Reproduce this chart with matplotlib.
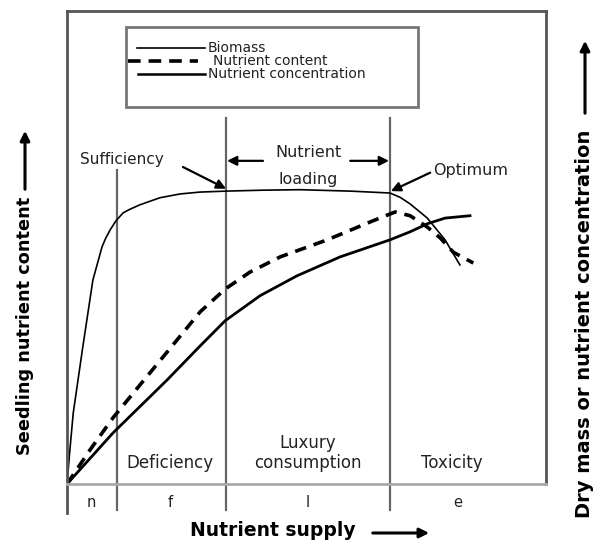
import matplotlib
matplotlib.use("Agg")
import matplotlib.pyplot as plt
from matplotlib.patches import Rectangle, FancyArrowPatch

plt.rcParams["font.family"] = ["DejaVu Sans"]

# Nutrient supply (x) vs. response (y), arbitrary units 0-10
biomass_x = [0, 0.06, 0.13, 0.33, 0.54, 0.73, 0.81, 0.90, 1.02, 1.17, 1.32, 1.52,
             1.94, 2.36, 2.78, 3.32, 4.10, 4.86, 5.91, 6.74, 6.95, 7.16, 7.52, 7.89, 8.20]
biomass_y = [0, 0.72, 1.50, 2.90, 4.31, 5.01, 5.20, 5.37, 5.56, 5.73, 5.81, 5.90,
             6.05, 6.13, 6.17, 6.19, 6.21, 6.22, 6.19, 6.15, 6.06, 5.92, 5.62, 5.16, 4.63]

content_x = [0, 0.48, 0.96, 1.52, 2.09, 2.78, 3.30, 3.82, 4.45, 5.43, 6.33, 6.85,
             7.16, 7.52, 7.79, 8.06, 8.48]
content_y = [0, 0.72, 1.40, 2.09, 2.79, 3.64, 4.12, 4.48, 4.80, 5.16, 5.54, 5.75,
             5.67, 5.43, 5.20, 4.90, 4.67]

conc_x = [0, 0.96, 2.09, 2.78, 3.30, 4.03, 4.80, 5.70, 6.74, 7.16, 7.52, 7.89, 8.41]
conc_y = [0, 1.08, 2.20, 2.92, 3.45, 3.98, 4.40, 4.80, 5.16, 5.33, 5.50, 5.62, 5.67]

zone_bounds = [1.04, 3.32, 6.74]
zone_tops = [6.64, 7.74, 7.74]
zone_letters = ["n", "f", "l", "e"]
zone_letter_x = [0.50, 2.15, 5.03, 8.16]

TXT = "#222222"

fig = plt.figure(figsize=(5.93, 5.42), dpi=100)
ax = fig.add_axes([0.113, 0.107, 0.808, 0.873])
ax.set_xlim(0, 10)
ax.set_ylim(0, 10)
ax.set_xticks([])
ax.set_yticks([])
for side in ("top", "left", "right"):
    ax.spines[side].set_color("#555555")
    ax.spines[side].set_linewidth(2)
ax.spines["bottom"].set_color("#aaaaaa")
ax.spines["bottom"].set_linewidth(2)
# left spine runs on below the axis
ax.plot([0, 0], [0, -0.62], color="#555555", lw=2, clip_on=False)

# zone boundaries
for xb, top in zip(zone_bounds, zone_tops):
    ax.plot([xb, xb], [top, -0.55], color="#666666", lw=1.6, clip_on=False)

# curves
ax.plot(biomass_x, biomass_y, color="black", lw=1.2)
ax.plot(content_x, content_y, color="black", lw=2.6, dashes=(3.2, 2.2))
ax.plot(conc_x, conc_y, color="black", lw=2.0)

# legend box drawn by hand
ax.add_patch(Rectangle((0.123, 0.797), 0.610, 0.169, transform=ax.transAxes,
                       fill=False, edgecolor="#777777", lw=2))
ax.plot([0.146, 0.288], [0.922, 0.922], transform=ax.transAxes, color="black", lw=1.2)
ax.plot([0.127, 0.273], [0.894, 0.894], transform=ax.transAxes, color="black", lw=2.6,
        dashes=(3.5, 2.2))
ax.plot([0.148, 0.288], [0.867, 0.867], transform=ax.transAxes, color="black", lw=1.8)
ax.text(0.294, 0.922, "Biomass", transform=ax.transAxes, fontsize=10, color=TXT, va="center")
ax.text(0.305, 0.894, "Nutrient content", transform=ax.transAxes, fontsize=10, color=TXT,
        va="center")
ax.text(0.294, 0.867, "Nutrient concentration", transform=ax.transAxes, fontsize=10,
        color=TXT, va="center")

# annotations
arrow = dict(arrowstyle="-|>", color="black", lw=1.6, mutation_scale=14,
             shrinkA=0, shrinkB=0)
ax.text(1.15, 6.85, "Sufficiency", fontsize=11, color=TXT, ha="center", va="center")
ax.annotate("", xy=(3.32, 6.24), xytext=(2.42, 6.70), arrowprops=arrow)
ax.text(7.64, 6.62, "Optimum", fontsize=11.5, color=TXT, ha="left", va="center")
ax.annotate("", xy=(6.76, 6.19), xytext=(7.58, 6.58), arrowprops=arrow)
ax.text(5.03, 7.00, "Nutrient", fontsize=11.5, color=TXT, ha="center", va="center")
ax.text(5.03, 6.43, "loading", fontsize=11.5, color=TXT, ha="center", va="center")
ax.annotate("", xy=(3.34, 6.83), xytext=(4.09, 6.83), arrowprops=arrow)
ax.annotate("", xy=(6.72, 6.83), xytext=(5.91, 6.83), arrowprops=arrow)

# zone names
ax.text(2.15, 0.44, "Deficiency", fontsize=12, color=TXT, ha="center", va="center")
ax.text(5.03, 0.87, "Luxury", fontsize=12, color=TXT, ha="center", va="center")
ax.text(5.03, 0.44, "consumption", fontsize=12, color=TXT, ha="center", va="center")
ax.text(8.04, 0.44, "Toxicity", fontsize=12, color=TXT, ha="center", va="center")
for lx, lab in zip(zone_letter_x, zone_letters):
    ax.text(lx, -0.40, lab, fontsize=10.5, color=TXT, ha="center", va="center", clip_on=False)

# axis titles with arrows
fig.text(273 / 593, 1 - 531 / 542, "Nutrient supply", fontsize=13.5, fontweight="bold",
         ha="center", va="center")
fig.add_artist(FancyArrowPatch(
    (370 / 593, 1 - 533 / 542), (432 / 593, 1 - 533 / 542), transform=fig.transFigure,
    arrowstyle="-|>", mutation_scale=14, lw=2.2, color="black"))

fig.text(25 / 593, 1 - 326 / 542, "Seedling nutrient content", fontsize=12.8,
         fontweight="bold", rotation=90, ha="center", va="center")
fig.add_artist(FancyArrowPatch(
    (25 / 593, 1 - 192 / 542), (25 / 593, 1 - 128 / 542), transform=fig.transFigure,
    arrowstyle="-|>", mutation_scale=14, lw=2.2, color="black"))

fig.text(585 / 593, 1 - 324 / 542, "Dry mass or nutrient concentration", fontsize=14,
         fontweight="bold", rotation=90, ha="center", va="center")
fig.add_artist(FancyArrowPatch(
    (585 / 593, 1 - 116 / 542), (585 / 593, 1 - 38 / 542), transform=fig.transFigure,
    arrowstyle="-|>", mutation_scale=14, lw=2.2, color="black"))

fig.savefig("out.png", dpi=100)
